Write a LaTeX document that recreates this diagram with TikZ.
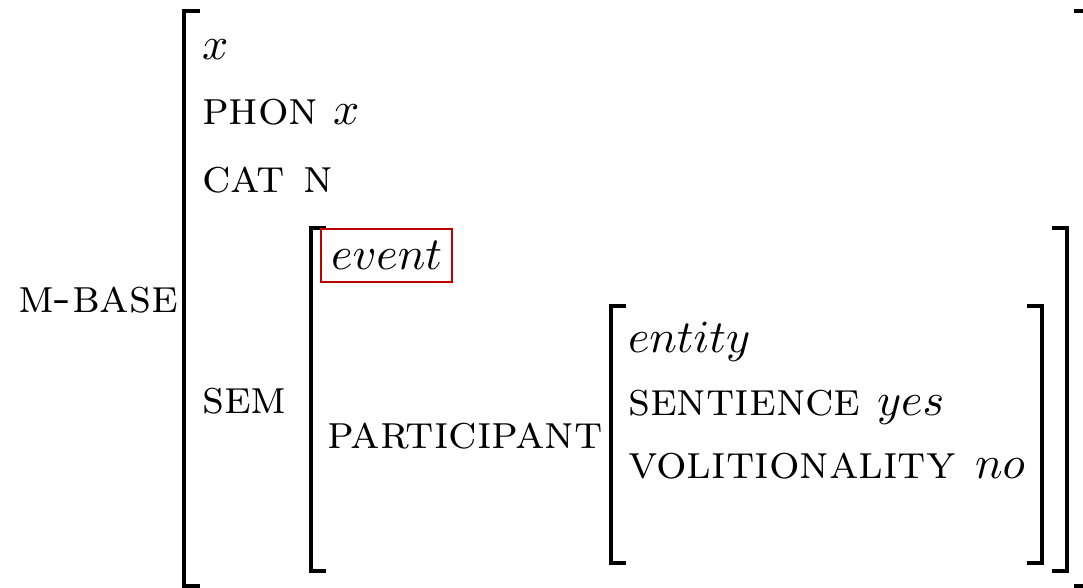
\documentclass[tikz,border=0pt]{standalone}
\begin{document}
\begin{tikzpicture}[x=0.2174pt,y=-0.2174pt,
  br/.style={line width=0.7pt, line cap=butt, line join=miter},
  lab/.style={anchor=base west, inner sep=0pt, outer sep=0pt},
  sc/.style={lab, font=\fontsize{10.45pt}{12pt}\selectfont\scshape},
  redbox/.style={draw=red!75!black, line width=0.45pt, anchor=base west, inner xsep=2.2pt, inner ysep=2.7pt}]
\useasboundingbox (0,0) rectangle (1083,587);
% outer brackets
\draw[br] (200,11) -- (184,11) -- (184,586) -- (200,586);
\draw[br] (1074,11) -- (1090,11) -- (1090,586) -- (1074,586);
% SEM brackets
\draw[br] (326,228) -- (311,228) -- (311,571) -- (326,571);
\draw[br] (1052,228) -- (1067,228) -- (1067,571) -- (1052,571);
% PARTICIPANT brackets
\draw[br] (626,306) -- (611,306) -- (611,563) -- (626,563);
\draw[br] (1027,306) -- (1042,306) -- (1042,563) -- (1027,563);
% labels
\node[sc] (mbase) at (18,312) {m-base};
\node[lab] (x1) at (202,60) {$x$};
\node[sc] (phon) at (202,125) {phon};
\node[lab] (phonv) at (333,125) {$x$};
\node[sc] (cat) at (202,192) {cat n};
\node[sc] (sem) at (202,413) {sem};
\node[redbox] (event) at (320,270) {$event$};
\node[sc] (part) at (327,448) {participant};
\node[lab] (entity) at (628,352) {$entity$};
\node[sc] (sent) at (628,415) {sentience};
\node[lab] (sentv) at (877,415) {$yes$};
\node[sc] (vol) at (628,478) {volitionality};
\node[lab] (volv) at (975,478) {$no$};
\end{tikzpicture}
\end{document}
